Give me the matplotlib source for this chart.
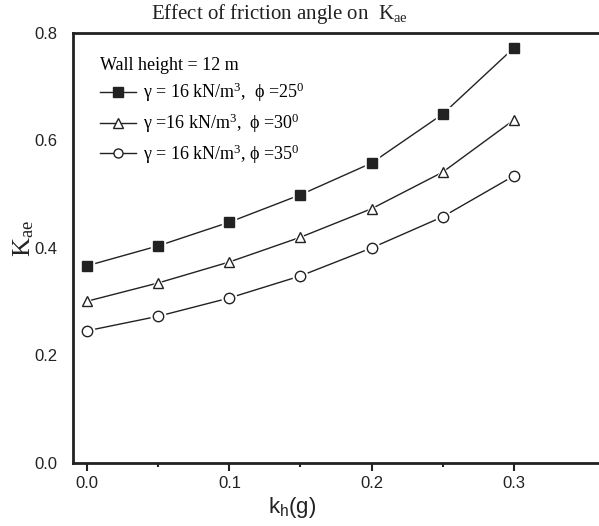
import matplotlib
matplotlib.use("Agg")
import matplotlib.pyplot as plt
from matplotlib.ticker import FixedLocator, FormatStrFormatter
from matplotlib.lines import Line2D

# horizontal seismic coefficient
kh = [0.0, 0.05, 0.10, 0.15, 0.20, 0.25, 0.30]

# Kae for three friction angles
kae_25 = [0.367, 0.404, 0.448, 0.499, 0.558, 0.649, 0.772]
kae_30 = [0.301, 0.335, 0.374, 0.420, 0.473, 0.541, 0.638]
kae_35 = [0.246, 0.273, 0.307, 0.348, 0.400, 0.458, 0.534]

labels = [r"$\gamma$ = 16 kN/m$^3$,  $\phi$ =25$^0$",
          r"$\gamma$ =16 kN/m$^3$,  $\phi$ =30$^0$",
          r"$\gamma$ = 16 kN/m$^3$, $\phi$ =35$^0$"]

xticks = [0.0, 0.1, 0.2, 0.3]
xminor = [0.05, 0.15, 0.25]
yticks = [0.0, 0.2, 0.4, 0.6, 0.8]

plt.rcParams['mathtext.fontset'] = 'custom'
plt.rcParams['mathtext.rm'] = 'Liberation Serif'
plt.rcParams['mathtext.it'] = 'Liberation Serif'

ink = '#222222'
fig = plt.figure(figsize=(5.99, 5.26), dpi=100)
ax = fig.add_axes([0.1219, 0.1198, 0.8781, 0.8175])

styles = [('s', ink), ('^', 'white'), ('o', 'white')]
handles = []
for ys, (m, fc), lab in zip([kae_25, kae_30, kae_35], styles, labels):
    ax.plot(kh, ys, color=ink, lw=1.0, zorder=2)
    # white halo so line stops short of the marker
    ax.plot(kh, ys, ls='none', marker=m, ms=10.5, mfc='white', mec='white', zorder=3)
    ax.plot(kh, ys, ls='none', marker=m, ms=7.5, mfc=fc, mec=ink, mew=1.0, zorder=4)
    handles.append(Line2D([], [], color=ink, lw=1.0, marker=m, ms=6.5, mfc=fc, mec=ink))

leg = ax.legend(handles, labels, loc='upper left', bbox_to_anchor=(0.03, 0.97),
                frameon=False, title="Wall height = 12 m", alignment='left',
                prop={'family': 'Liberation Serif', 'size': 13}, handlelength=2.0,
                handletextpad=0.4, labelspacing=0.4, borderaxespad=0.2)
leg.get_title().set_fontfamily('Liberation Serif')
leg.get_title().set_fontsize(13)

ax.set_xlim(-0.01, 0.36)
ax.set_ylim(0.0, 0.8)
ax.xaxis.set_major_locator(FixedLocator(xticks))
ax.xaxis.set_minor_locator(FixedLocator(xminor))
ax.yaxis.set_major_locator(FixedLocator(yticks))
ax.xaxis.set_major_formatter(FormatStrFormatter('%.1f'))
ax.yaxis.set_major_formatter(FormatStrFormatter('%.1f'))
ax.tick_params(axis='x', which='major', direction='out', length=6, width=1.5, color=ink)
ax.tick_params(axis='x', which='minor', direction='out', length=3, width=1.5, color=ink)
ax.tick_params(axis='y', which='both', length=0, pad=11)
ax.tick_params(axis='both', labelsize=12, labelcolor=ink, labelfontfamily='Liberation Sans')

ax.spines['right'].set_visible(False)
for s in ['left', 'bottom', 'top']:
    ax.spines[s].set_linewidth(2.0)
    ax.spines[s].set_color(ink)

fig.text(279 / 599, 1 - 14 / 526, r"Effect of friction angle on  K$_{\mathregular{ae}}$",
         ha='center', va='center', family='Liberation Serif', fontsize=15, color=ink)
fig.text(24 / 599, 1 - 238 / 526, r"K$_{\mathregular{ae}}$", rotation=90,
         ha='center', va='center', family='Liberation Serif', fontsize=19, color=ink)
fig.text(292 / 599, 1 - 508 / 526, "k$_\\mathregular{h}$(g)",
         ha='center', va='center', family='Liberation Sans', fontsize=16, color=ink)

fig.savefig("out.png", dpi=100)
